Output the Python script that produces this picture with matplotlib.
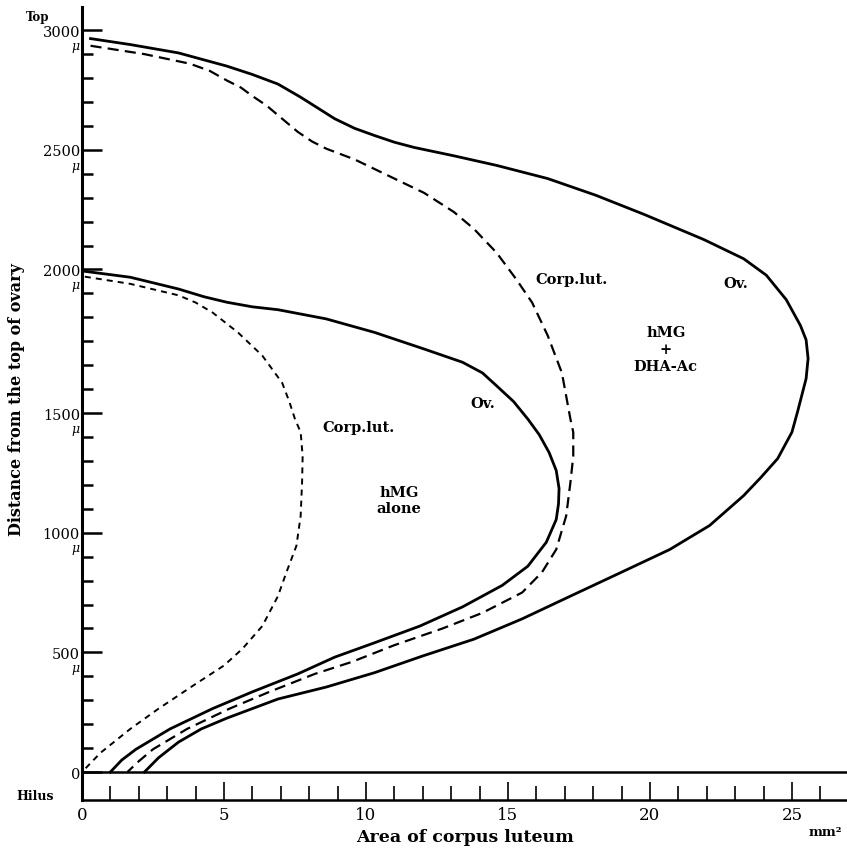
import numpy as np
import matplotlib
matplotlib.use("Agg")
import matplotlib.pyplot as plt

# ---------------- data (area in mm^2, distance in micron) ----------------
# hMG + DHA-Ac : ovary outline (solid)
ov_dha_x = [0.3, 1.7, 3.4, 5.1, 6.0, 6.9, 7.7, 8.3, 8.9, 9.6, 10.3, 11.0, 11.7, 13.1, 14.6,
            16.4, 18.1, 19.8, 21.9, 23.3, 24.1, 24.8, 25.3, 25.5, 25.57, 25.5, 25.2, 25.0,
            24.5, 23.9, 23.3, 22.1, 20.7, 19.0, 17.2, 15.5, 13.8, 12.0, 10.3, 8.6, 6.9, 5.1,
            4.2, 3.4, 2.7, 2.2]
ov_dha_y = [2965, 2940, 2905, 2850, 2815, 2775, 2720, 2675, 2630, 2590, 2560, 2532, 2510, 2475,
            2435, 2380, 2310, 2230, 2125, 2045, 1980, 1895, 1805, 1755, 1690, 1620, 1505, 1420,
            1310, 1230, 1155, 1030, 930, 835, 735, 640, 555, 485, 415, 355, 305, 225,
            180, 125, 60, 0]
# hMG + DHA-Ac : corpus luteum (dashed)
cl_dha_x = [0.3, 2.2, 3.8, 4.5, 5.1, 5.6, 6.0, 6.5, 6.9, 7.6, 8.1, 8.6, 9.6, 11.0, 12.05, 13.1,
            13.8, 14.6, 15.3, 15.85, 16.4, 16.9, 17.2, 17.3, 17.3, 17.2, 17.05, 16.7, 16.2,
            15.5, 14.1, 12.7, 11.0, 9.5, 8.2, 6.6, 5.2, 3.7, 2.5, 2.0, 1.6]
cl_dha_y = [2935, 2900, 2860, 2830, 2790, 2760, 2725, 2685, 2645, 2575, 2535, 2505, 2460, 2380,
            2320, 2240, 2170, 2070, 1965, 1885, 1770, 1640, 1475, 1420, 1320, 1210, 1070, 930,
            835, 750, 665, 600, 530, 460, 410, 335, 265, 180, 95, 45, 0]
# hMG alone : ovary outline (solid)
ov_alone_x = [0.0, 1.7, 3.4, 4.3, 5.1, 6.0, 6.9, 8.6, 10.3, 12.05, 13.4, 14.1, 14.6, 15.2,
              15.7, 16.1, 16.45, 16.7, 16.8, 16.78, 16.7, 16.35, 15.7, 14.8, 13.4, 11.9, 10.3,
              8.9, 7.6, 6.0, 4.6, 3.1, 1.9, 1.4, 1.0]
ov_alone_y = [1995, 1973, 1932, 1905, 1886, 1870, 1860, 1828, 1781, 1723, 1677, 1640, 1595,
              1540, 1475, 1410, 1335, 1260, 1185, 1120, 1055, 960, 860, 780, 690, 610, 540,
              480, 410, 335, 265, 180, 95, 50, 0]
# hMG alone : corpus luteum (short dashes)
cl_alone_x = [0.1, 1.7, 3.4, 4.0, 4.6, 5.5, 6.35, 7.05, 7.3, 7.5, 7.7, 7.77, 7.75, 7.7, 7.55,
              7.2, 6.9, 6.35, 5.65, 5.0, 3.9, 2.7, 1.7, 0.65, 0.0]
cl_alone_y = [1975, 1950, 1910, 1885, 1850, 1780, 1700, 1605, 1540, 1475, 1420, 1320, 1210,
              1070, 945, 835, 735, 610, 515, 445, 360, 265, 180, 80, 0]

x_major = [0, 5, 10, 15, 20, 25]
x_minor = [v for v in range(1, 27) if v % 5 != 0]
y_major = [0, 500, 1000, 1500, 2000, 2500, 3000]
y_labels = ["0", "500", "1000", "1500", "2000", "2500", "3000"]

# ---------------- axis scale (as drawn: 1500-2000 span is stretched) ----------------
def fwd(y):
    y = np.asarray(y, dtype=float)
    return np.where(y <= 1500, y, np.where(y <= 2000, 1500 + (y - 1500) * 1.2, y + 100))

def inv(t):
    t = np.asarray(t, dtype=float)
    return np.where(t <= 1500, t, np.where(t <= 2100, 1500 + (t - 1500) / 1.2, t - 100))

y_minor = ([v for v in range(100, 1500, 100) if v % 500 != 0]
           + [1500 + k * 500 / 6 for k in range(1, 6)]
           + [v for v in range(2100, 3000, 100) if v % 500 != 0])

plt.rcParams["font.family"] = ["DejaVu Serif"]

W, H = 847, 853
fig = plt.figure(figsize=(W / 100, H / 100), dpi=100)
ax = fig.add_axes([82 / W, (H - 801) / H, (W - 82) / W, (801 - 8) / H])
ax.set_yscale("function", functions=(fwd, inv))
ax.set_xlim(0, 26.94)
ax.set_ylim(-117, 3097)

for s in ["top", "right"]:
    ax.spines[s].set_visible(False)
ax.spines["left"].set_linewidth(2.2)
ax.spines["bottom"].set_linewidth(1.8)

ax.set_xticks(x_major)
ax.set_xticks(x_minor, minor=True)
ax.set_xticklabels([str(v) for v in x_major], fontsize=12)
ax.set_yticks(y_major)
ax.set_yticks(y_minor, minor=True)
ax.set_yticklabels(y_labels, fontsize=10.5)

ax.tick_params(axis="x", which="major", direction="in", length=13, width=1.2, pad=4)
ax.tick_params(axis="x", which="minor", direction="in", length=10, width=1.2)
ax.tick_params(axis="y", which="major", direction="in", length=14.5, width=1.8, pad=1.5)
ax.tick_params(axis="y", which="minor", direction="in", length=8, width=1.8)

# micron signs under y labels
for v in y_major[1:]:
    ax.annotate("μ", xy=(0, v), xytext=(-2, -11), textcoords="offset points",
                ha="right", va="center", fontsize=9, style="italic", annotation_clip=False)

# baseline (hilus level)
ax.axhline(0, color="black", lw=1.8)

# curves
ax.plot(ov_dha_x, ov_dha_y, color="black", lw=2.0, solid_joinstyle="round")
ax.plot(cl_dha_x, cl_dha_y, color="black", lw=1.6, linestyle=(0, (5, 2.8)))
ax.plot(ov_alone_x, ov_alone_y, color="black", lw=2.0, solid_joinstyle="round")
ax.plot(cl_alone_x, cl_alone_y, color="black", lw=1.4, linestyle=(0, (3.1, 2.6)))

# annotations
tk = dict(ha="center", va="center", fontsize=10.5, fontweight="bold")
ax.text(17.25, 1967, "Corp.lut.", **tk)
ax.text(23.03, 1953, "Ov.", **tk)
ax.text(20.56, 1723, "hMG\n+\nDHA-Ac", linespacing=1.25, **tk)
ax.text(9.72, 1442, "Corp.lut.", **tk)
ax.text(14.12, 1535, "Ov.", **tk)
ax.text(11.16, 1137, "hMG\nalone", linespacing=1.2, **tk)

# axis labels
ax.set_xlabel("Area of corpus luteum", fontsize=12.5, fontweight="bold")
ax.xaxis.label.set_va("center")
ax.xaxis.set_label_coords(0.5, -(838 - 801) / 793)
ax.set_ylabel("Distance from the top of ovary", fontsize=11.5, fontweight="bold")
ax.yaxis.label.set_va("center")
ax.yaxis.set_label_coords((17 - 82) / 765, (801 - 400) / 793)

fig.text(38 / W, 1 - 17 / H, "Top", ha="center", va="center", fontsize=8.5, fontweight="bold")
fig.text(35 / W, 1 - 797 / H, "Hilus", ha="center", va="center", fontsize=9, fontweight="bold")
fig.text(825 / W, 1 - 833 / H, "mm²", ha="center", va="center", fontsize=9.5, fontweight="bold")

fig.savefig("out.png", dpi=100, facecolor="white")
